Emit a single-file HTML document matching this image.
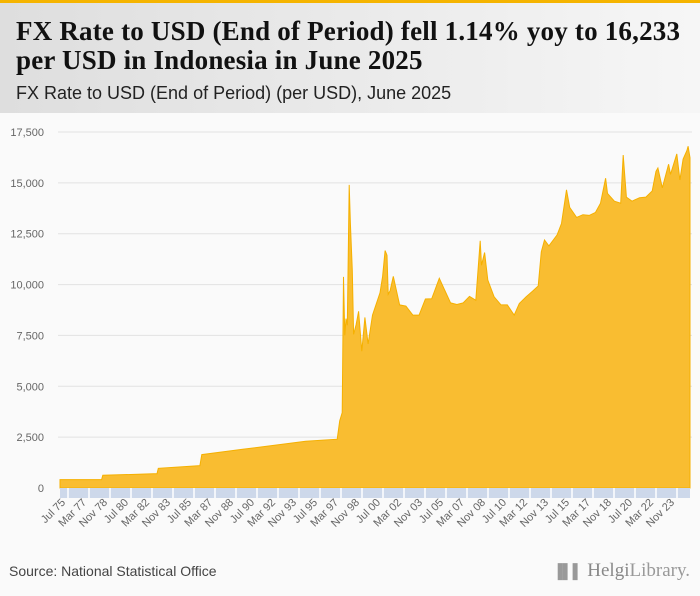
<!DOCTYPE html>
<html><head><meta charset="utf-8">
<style>
body{margin:0;width:700px;height:596px;background:#fafafa;font-family:"Liberation Sans",sans-serif;overflow:hidden;position:relative}
#topbar{position:absolute;left:0;top:0;width:700px;height:3px;background:#f5b400}
#header{position:absolute;left:0;top:3px;width:700px;height:110px;background:linear-gradient(90deg,#dedede,#f6f6f6)}
#title{position:absolute;left:16px;top:14px;font-family:"Liberation Serif",serif;font-weight:bold;font-size:27px;letter-spacing:0.2px;line-height:29px;color:#111;white-space:nowrap}
#subtitle{position:absolute;left:16px;top:80px;font-size:18px;color:#222;white-space:nowrap}
#source{position:absolute;left:9px;top:563px;font-size:14px;color:#444}
#logo{position:absolute;right:10px;top:560px;font-family:"Liberation Serif",serif;font-size:19px;color:#999}
svg{position:absolute;left:0;top:0}
</style></head><body>
<div id="topbar"></div>
<div id="header">
<div id="title">FX Rate to USD (End of Period) fell 1.14% yoy to 16,233<br>per USD in Indonesia in June 2025</div>
<div id="subtitle">FX Rate to USD (End of Period) (per USD), June 2025</div>
</div>
<svg id="chart" width="700" height="596"></svg>
<div id="source">Source: National Statistical Office</div>
<div id="logo"><span style="font-size:14px">▐▌▌</span> <b style="font-weight:normal;color:#888">Helgi</b>Library.</div>
<script>
const yTicks=[0,2500,5000,7500,10000,12500,15000,17500];
const xLabels=["Jul 75","Mar 77","Nov 78","Jul 80","Mar 82","Nov 83","Jul 85","Mar 87","Nov 88","Jul 90","Mar 92","Nov 93","Jul 95","Mar 97","Nov 98","Jul 00","Mar 02","Nov 03","Jul 05","Mar 07","Nov 08","Jul 10","Mar 12","Nov 13","Jul 15","Mar 17","Nov 18","Jul 20","Mar 22","Nov 23"];
const dates=[1975.5,1978.8,1978.9,1982.9,1983.2,1983.3,1986.6,1986.75,1990,1995,1997.5,1997.7,1997.9,1998.0,1998.1,1998.2,1998.3,1998.45,1998.55,1998.7,1998.8,1999.0,1999.2,1999.45,1999.7,1999.95,2000.3,2000.9,2001.1,2001.3,2001.45,2001.55,2001.7,2001.95,2002.45,2002.95,2003.5,2004.0,2004.5,2005.0,2005.6,2005.95,2006.5,2007.0,2007.5,2008.0,2008.5,2008.85,2008.95,2009.2,2009.45,2009.95,2010.5,2011.0,2011.55,2011.95,2012.5,2013.0,2013.45,2013.7,2013.95,2014.3,2014.95,2015.3,2015.7,2015.95,2016.5,2017.0,2017.5,2018.0,2018.4,2018.8,2018.95,2019.5,2020.0,2020.2,2020.45,2020.9,2021.5,2022.0,2022.5,2022.8,2022.95,2023.3,2023.8,2023.95,2024.45,2024.7,2024.95,2025.25,2025.35,2025.5];
const rates=[415,415,625,700,700,970,1100,1640,1900,2300,2400,3300,3700,10375,7500,8325,8000,14900,13000,10700,7550,8025,8685,6726,8386,7085,8500,9595,10400,11675,11440,9525,9700,10400,9000,8940,8500,8500,9290,9300,10310,9830,9100,9020,9100,9419,9225,12151,10950,11575,10225,9400,9000,9000,8500,9068,9400,9670,9929,11613,12189,11900,12440,13000,14657,13795,13300,13436,13400,13548,14000,15227,14481,14100,14000,16367,14302,14100,14269,14300,14600,15568,15731,14751,15916,15416,16421,15138,16162,16588,16800,16233];
const svg=document.getElementById('chart');const NS='http://www.w3.org/2000/svg';
const X0=60,X1=690,Y0=488,Y1=132,T0=1975.5,T1=2025.5,VMAX=17500;
function xs(t){return X0+(t-T0)/(T1-T0)*(X1-X0);}
function ys(v){return Y0-v/VMAX*(Y0-Y1);}
function mk(tag,attrs){const e=document.createElementNS(NS,tag);for(const k in attrs)e.setAttribute(k,attrs[k]);svg.appendChild(e);return e;}
yTicks.forEach(v=>{
 if(v>0){const g=mk('line',{x1:58,x2:692,y1:ys(v),y2:ys(v),stroke:'#e2e2e2','stroke-width':1});
 
 }
 const t=mk('text',{x:44,y:ys(v)+4,'text-anchor':'end','font-size':11,fill:'#666','font-family':'Liberation Sans, sans-serif'});
 t.textContent=v.toLocaleString('en-US');
 
 
});
let d='M'+xs(dates[0])+','+Y0;
dates.forEach((t,i)=>{d+=' L'+xs(t).toFixed(1)+','+ys(rates[i]).toFixed(1);});
d+=' L'+xs(dates[dates.length-1])+','+Y0+' Z';
const area=mk('path',{d:d,fill:'#f9bd31',stroke:'#f5b000','stroke-width':1});


const band=mk('rect',{x:X0,y:Y0,width:X1-X0,height:10,fill:'#cdd8ea'});


xLabels.forEach((l,i)=>{
 const x=xs(T0+i*20/12);
 const tk=mk('line',{x1:x+8,x2:x+8,y1:Y0,y2:Y0+10,stroke:'#fff','stroke-width':1.5});
 
 
 const t=mk('text',{x:x+6,y:Y0+15,'text-anchor':'end','font-size':11,fill:'#666','font-family':'Liberation Sans, sans-serif',transform:'rotate(-45 '+(x+6)+' '+(Y0+15)+')'});
 t.textContent=l;
 
 
});
</script>
</body></html>
